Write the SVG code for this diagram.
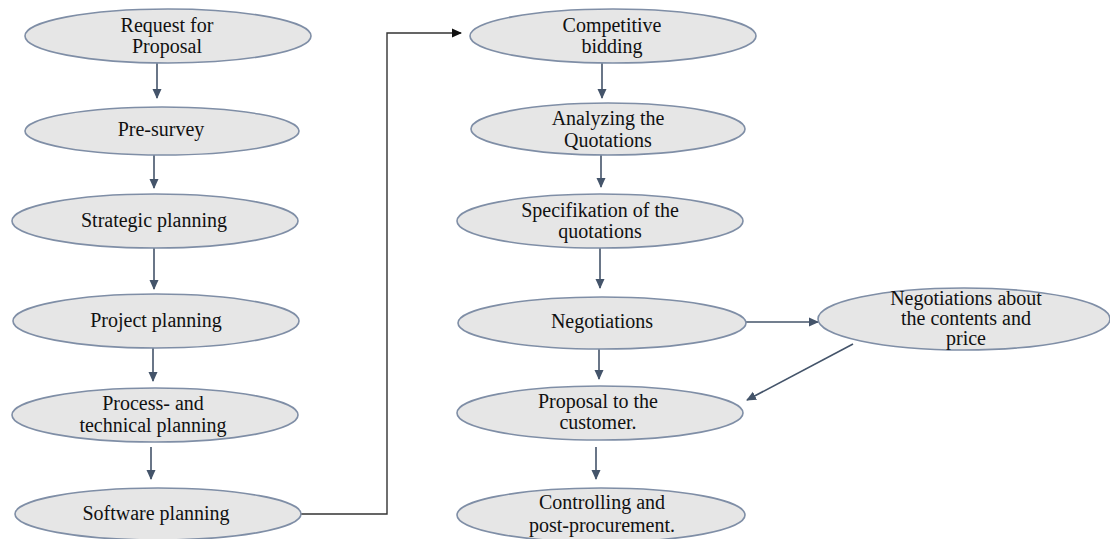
<svg xmlns="http://www.w3.org/2000/svg" width="1110" height="539" viewBox="0 0 1110 539" font-family="Liberation Serif, Times New Roman, serif">
<style>
.n ellipse{fill:#e6e6e6;stroke:#7f8ea6;stroke-width:1.6}
.n text{font-size:20px;fill:#111;text-anchor:middle}
.c{stroke:#44546a;stroke-width:1.6;fill:none}
.k{stroke:#333;stroke-width:1.4;fill:none}
</style>
<defs>
<marker id="a" markerWidth="10" markerHeight="10" refX="9" refY="5" orient="auto" markerUnits="userSpaceOnUse" viewBox="0 0 10 10">
<path d="M0,0.5 L10,5 L0,9.5 Z" fill="#44546a"/>
</marker>
<marker id="b" markerWidth="10" markerHeight="10" refX="9" refY="5" orient="auto" markerUnits="userSpaceOnUse" viewBox="0 0 10 10">
<path d="M0,0.5 L10,5 L0,9.5 Z" fill="#111"/>
</marker>
</defs>
<g id="connectors">
<line class="c" x1="157" y1="63" x2="157" y2="98" marker-end="url(#a)"/>
<line class="c" x1="154" y1="155" x2="154" y2="188" marker-end="url(#a)"/>
<line class="c" x1="154" y1="248" x2="154" y2="289" marker-end="url(#a)"/>
<line class="c" x1="153" y1="348" x2="153" y2="381" marker-end="url(#a)"/>
<line class="c" x1="151" y1="447" x2="151" y2="479" marker-end="url(#a)"/>
<polyline class="k" points="301,514 387,514 387,33 461,33" marker-end="url(#b)"/>
<line class="c" x1="602" y1="63" x2="602" y2="98" marker-end="url(#a)"/>
<line class="c" x1="601" y1="155" x2="601" y2="187" marker-end="url(#a)"/>
<line class="c" x1="600" y1="248" x2="600" y2="288" marker-end="url(#a)"/>
<line class="c" x1="599" y1="349" x2="599" y2="379" marker-end="url(#a)"/>
<line class="c" x1="596" y1="447" x2="596" y2="479" marker-end="url(#a)"/>
<line class="c" x1="746" y1="322" x2="818" y2="322" marker-end="url(#a)"/>
<line class="c" x1="853" y1="344" x2="747" y2="400" marker-end="url(#a)"/>
</g>
<g id="n1" class="n"><ellipse cx="168" cy="36" rx="143" ry="27"/><text x="167" y="32">Request for</text><text x="167" y="53">Proposal</text></g>
<g id="n2" class="n"><ellipse cx="162" cy="131" rx="137" ry="24"/><text x="161" y="136">Pre-survey</text></g>
<g id="n3" class="n"><ellipse cx="155" cy="221" rx="143" ry="27"/><text x="154" y="227">Strategic planning</text></g>
<g id="n4" class="n"><ellipse cx="156" cy="321" rx="143" ry="27"/><text x="156" y="327">Project planning</text></g>
<g id="n5" class="n"><ellipse cx="155" cy="415" rx="143" ry="27"/><text x="153" y="410">Process- and</text><text x="153" y="432">technical planning</text></g>
<g id="n6" class="n"><ellipse cx="158" cy="514" rx="143" ry="26"/><text x="156" y="520">Software planning</text></g>
<g id="n7" class="n"><ellipse cx="613" cy="36" rx="143" ry="27"/><text x="612" y="32">Competitive</text><text x="612" y="53">bidding</text></g>
<g id="n8" class="n"><ellipse cx="608" cy="129" rx="137" ry="26"/><text x="608" y="125">Analyzing the</text><text x="608" y="147">Quotations</text></g>
<g id="n9" class="n"><ellipse cx="600" cy="221" rx="143" ry="27"/><text x="600" y="217">Specifikation of the</text><text x="600" y="238">quotations</text></g>
<g id="n10" class="n"><ellipse cx="602" cy="323" rx="144" ry="26"/><text x="602" y="328">Negotiations</text></g>
<g id="n11" class="n"><ellipse cx="600" cy="413" rx="143" ry="27"/><text x="598" y="408">Proposal to the</text><text x="598" y="429">customer.</text></g>
<g id="n12" class="n"><ellipse cx="601" cy="515" rx="144" ry="27"/><text x="602" y="509">Controlling and</text><text x="602" y="532">post-procurement.</text></g>
<g id="n13" class="n"><ellipse cx="964" cy="319" rx="146" ry="31"/><text x="966" y="305">Negotiations about</text><text x="966" y="325">the contents and</text><text x="966" y="345">price</text></g>
</svg>
